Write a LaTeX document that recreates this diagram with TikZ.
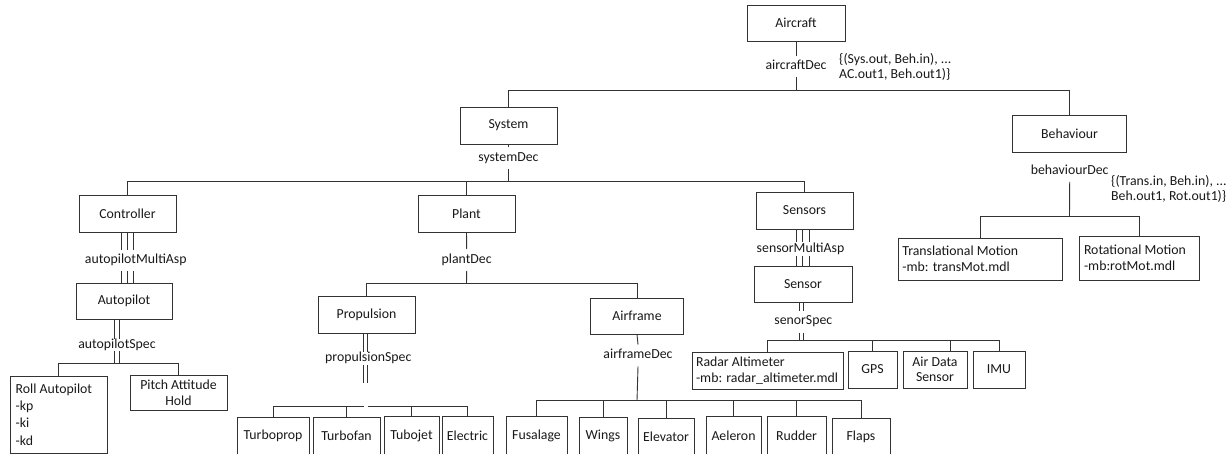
\documentclass[tikz,border=0pt]{standalone}
\usepackage{fontspec}
\setmainfont{Carlito}
\usetikzlibrary{calc}
\begin{document}
\begin{tikzpicture}[x=1pt,y=-1pt,
  every node/.style={font=\fontsize{13.8}{16}\selectfont, text=black!90},
  box/.style={draw=black!80, line width=0.9pt, fill=white, inner sep=0pt, align=center},
  lbox/.style={box, align=flush left},
  lab/.style={inner xsep=1pt, inner ysep=4.5pt, text height=9.5pt, text depth=3pt},
  conn/.style={draw=black!80, line width=0.9pt},
  note/.style={align=flush left, anchor=west, inner sep=0pt}
]
\useasboundingbox (0,0) rectangle (1232,454);
\fill[white] (0,0) rectangle (1232,454);

% ---------- boxes ----------
\node[box, minimum width=98pt, minimum height=36pt] (aircraft) at (796,23) {Aircraft};
\node[box, minimum width=97pt, minimum height=37pt] (system) at (508.5,125.5) {System};
\node[box, minimum width=114pt, minimum height=37pt] (behaviour) at (1069.5,133.5) {Behaviour};
\node[box, minimum width=97pt, minimum height=37pt] (controller) at (127.5,213.5) {Controller};
\node[box, minimum width=97pt, minimum height=37pt] (plant) at (466.5,213.5) {Plant};
\node[box, minimum width=97pt, minimum height=37pt] (sensors) at (804.5,210.5) {Sensors};
\node[box, minimum width=96pt, minimum height=36pt] (autopilot) at (124,301) {Autopilot};
\node[box, minimum width=97pt, minimum height=37pt] (propulsion) at (366.5,314.5) {Propulsion};
\node[box, minimum width=93pt, minimum height=36pt] (airframe) at (637,316) {Airframe};
\node[box, minimum width=98pt, minimum height=36pt] (sensor) at (803,284) {Sensor};
\node[lbox, text width=155.2pt, inner xsep=4.4pt, minimum height=42pt, font=\fontsize{13.8}{15.7}\selectfont] (trans) at (980,259) {Translational Motion\\-mb: transMot.mdl};
\node[lbox, text width=110pt, inner xsep=5pt, minimum height=44pt, font=\fontsize{13.8}{16.5}\selectfont] (rot) at (1139,258) {Rotational Motion\\-mb:rotMot.mdl};
\node[lbox, text width=85.6pt, inner xsep=5.7pt, minimum height=77pt, font=\fontsize{13.8}{17.3}\selectfont] (roll) at (58.5,414.5) {Roll Autopilot\\-kp\\-ki\\-kd};
\node[box, minimum width=97pt, minimum height=35pt] (pitch) at (178.5,392.5) {Pitch Attitude\\Hold};
\node[lbox, text width=143pt, inner xsep=4pt, minimum height=37pt, font=\fontsize{13.8}{15.6}\selectfont] (radar) at (767.5,370.5) {Radar Altimeter\\-mb: radar\_altimeter.mdl};
\node[box, minimum width=49pt, minimum height=37pt] (gps) at (872.5,369.5) {GPS};
\node[box, minimum width=64pt, minimum height=37pt, font=\fontsize{13.8}{15}\selectfont] (airdata) at (935,369.5) {Air Data\\Sensor};
\node[box, minimum width=52pt, minimum height=37pt] (imu) at (999,369.5) {IMU};

\node[box, minimum width=72pt, minimum height=38pt] (turboprop) at (273,436) {Turboprop};
\node[box, minimum width=67pt, minimum height=38pt] (turbofan) at (346.5,436) {Turbofan};
\node[box, minimum width=55pt, minimum height=39pt] (tubojet) at (411.5,435.5) {Tubojet};
\node[box, minimum width=51pt, minimum height=39pt] (electric) at (467.5,435.5) {Electric};
\node[box, minimum width=61pt, minimum height=39pt] (fusalage) at (536.5,435.5) {Fusalage};
\node[box, minimum width=48pt, minimum height=38pt] (wings) at (603,436) {Wings};
\node[box, minimum width=56pt, minimum height=37pt] (elevator) at (666,436.5) {Elevator};
\node[box, minimum width=55pt, minimum height=39pt] (aeleron) at (733.5,435.5) {Aeleron};
\node[box, minimum width=59pt, minimum height=39pt] (rudder) at (796.5,435.5) {Rudder};
\node[box, minimum width=58pt, minimum height=37pt] (flaps) at (861,436.5) {Flaps};

% ---------- labels ----------
\node[lab] (acDec) at (796,66.5) {aircraftDec};
\node[lab] (sysDec) at (508.5,158) {systemDec};
\node[lab] (amDec) at (135.8,260.5) {autopilotMultiAsp};
\node[lab, inner ysep=0pt] (apSpec) at (117,345) {autopilotSpec};
\node[lab] (plDec) at (466.7,260) {plantDec};
\node[lab, inner ysep=0pt] (prSpec) at (368.3,358.5) {propulsionSpec};
\node[lab] (afDec) at (638,355.5) {airframeDec};
\node[lab, inner ysep=1pt] (smDec) at (800.5,249) {sensorMultiAsp};
\node[lab] (ssDec) at (803.3,321.7) {senorSpec};
\node[lab] (bhDec) at (1069.7,171) {behaviourDec};

\node[note, font=\fontsize{13.8}{14.5}\selectfont] (acNote) at (839,67) {\{(Sys.out, Beh.in), ...\\AC.out1, Beh.out1)\}};
\node[note, font=\fontsize{13.8}{15.7}\selectfont] (bhNote) at (1111,189) {\{(Trans.in, Beh.in), ...\\Beh.out1, Rot.out1)\}};

% ---------- bus coordinates ----------
\coordinate (busA) at (796,90);
\coordinate (busB) at (508.5,181.5);
\coordinate (busC) at (117,363);
\coordinate (busD) at (466.5,283.5);
\coordinate (propEnd) at (366.5,383);
\coordinate (gapL) at (363.5,406);
\coordinate (gapR) at (367.5,406);
\coordinate (busF) at (637,400.7);
\coordinate (busG) at (803,340.7);
\coordinate (busH) at (1069.5,216.7);

% ---------- connectors ----------
% aircraft
\draw[conn] (aircraft.south) -- (acDec.north);
\draw[conn] (acDec.south) -- (busA);
\draw[conn] (system.north) -- (system.north |- busA) -- (behaviour.north |- busA) -- (behaviour.north);

% system
\draw[conn] (system.south) -- (sysDec.north);
\draw[conn] (sysDec.south) -- (busB);
\draw[conn] (controller.north) -- (controller.north |- busB) -- (sensors.north |- busB) -- (sensors.north);
\draw[conn] (plant.north) -- (plant.north |- busB);

% controller -> autopilot (multi aspect, triple line)
\foreach \s in {-6.3,0,6.3} {
  \draw[conn] ($(controller.south)+(\s,0)$) -- ($(controller.south |- amDec.north)+(\s,0)$);
  \draw[conn] ($(controller.south |- amDec.south)+(\s,0)$) -- ($(controller.south |- autopilot.north)+(\s,0)$);
}

% autopilot spec (double line)
\foreach \s in {-9.5,-5} {
  \draw[conn] ($(autopilot.south)+(\s,0)$) -- ($(autopilot.south |- apSpec.north)+(\s,0)$);
  \draw[conn] ($(autopilot.south |- apSpec.south)+(\s,0)$) -- ($(autopilot.south |- busC)+(\s,0)$);
}
\draw[conn] (roll.north) -- (roll.north |- busC) -- (pitch.north |- busC) -- (pitch.north);

% plant
\draw[conn] (plant.south) -- (plDec.north);
\draw[conn] (plDec.south) -- (busD);
\draw[conn] (propulsion.north) -- (propulsion.north |- busD) -- (airframe.north |- busD) -- (airframe.north);

% propulsion spec (double line)
\foreach \s in {-3,1} {
  \draw[conn] ($(propulsion.south)+(\s,0)$) -- ($(propulsion.south |- prSpec.north)+(\s,0)$);
  \draw[conn] ($(propulsion.south |- prSpec.south)+(\s,0)$) -- ($(propEnd)+(\s,0)$);
}
\draw[conn] (turboprop.north) |- (gapL);
\draw[conn] (gapR) -| (electric.north);
\draw[conn] (turbofan.north) -- (turbofan.north |- gapL);
\draw[conn] (tubojet.north) -- (tubojet.north |- gapL);

% airframe
\draw[conn] (airframe.south) -- (afDec.north);
\draw[conn] (afDec.south) -- (busF);
\draw[conn] (fusalage.north) |- (busF) -| (flaps.north);
\foreach \n in {wings,elevator,aeleron,rudder} {
  \draw[conn] (\n.north) -- (\n.north |- busF);
}

% sensors -> sensor (multi aspect, triple line)
\foreach \s in {-8.5,-2,4.5} {
  \draw[conn] ($(sensors.south)+(\s,0)$) -- ($(sensors.south |- smDec.north)+(\s,0)$);
  \draw[conn] ($(sensors.south |- smDec.south)+(\s,0)$) -- ($(sensors.south |- sensor.north)+(\s,0)$);
}

% sensor spec (double line)
\foreach \s in {-3.5,0.5} {
  \draw[conn] ($(sensor.south)+(\s,0)$) -- ($(sensor.south |- ssDec.north)+(\s,0)$);
  \draw[conn] ($(sensor.south |- ssDec.south)+(\s,0)$) -- ($(sensor.south |- busG)+(\s,0)$);
}
\draw[conn] (radar.north) |- (busG) -| (imu.north);
\draw[conn] (gps.north) -- (gps.north |- busG);
\draw[conn] ($(airdata.north)+(15.7,0)$) -- ($(airdata.north |- busG)+(15.7,0)$);

% behaviour
\draw[conn] (bhDec.south) -- (busH);
\draw[conn] (trans.north) |- (busH) -| (rot.north);
\end{tikzpicture}
\end{document}
